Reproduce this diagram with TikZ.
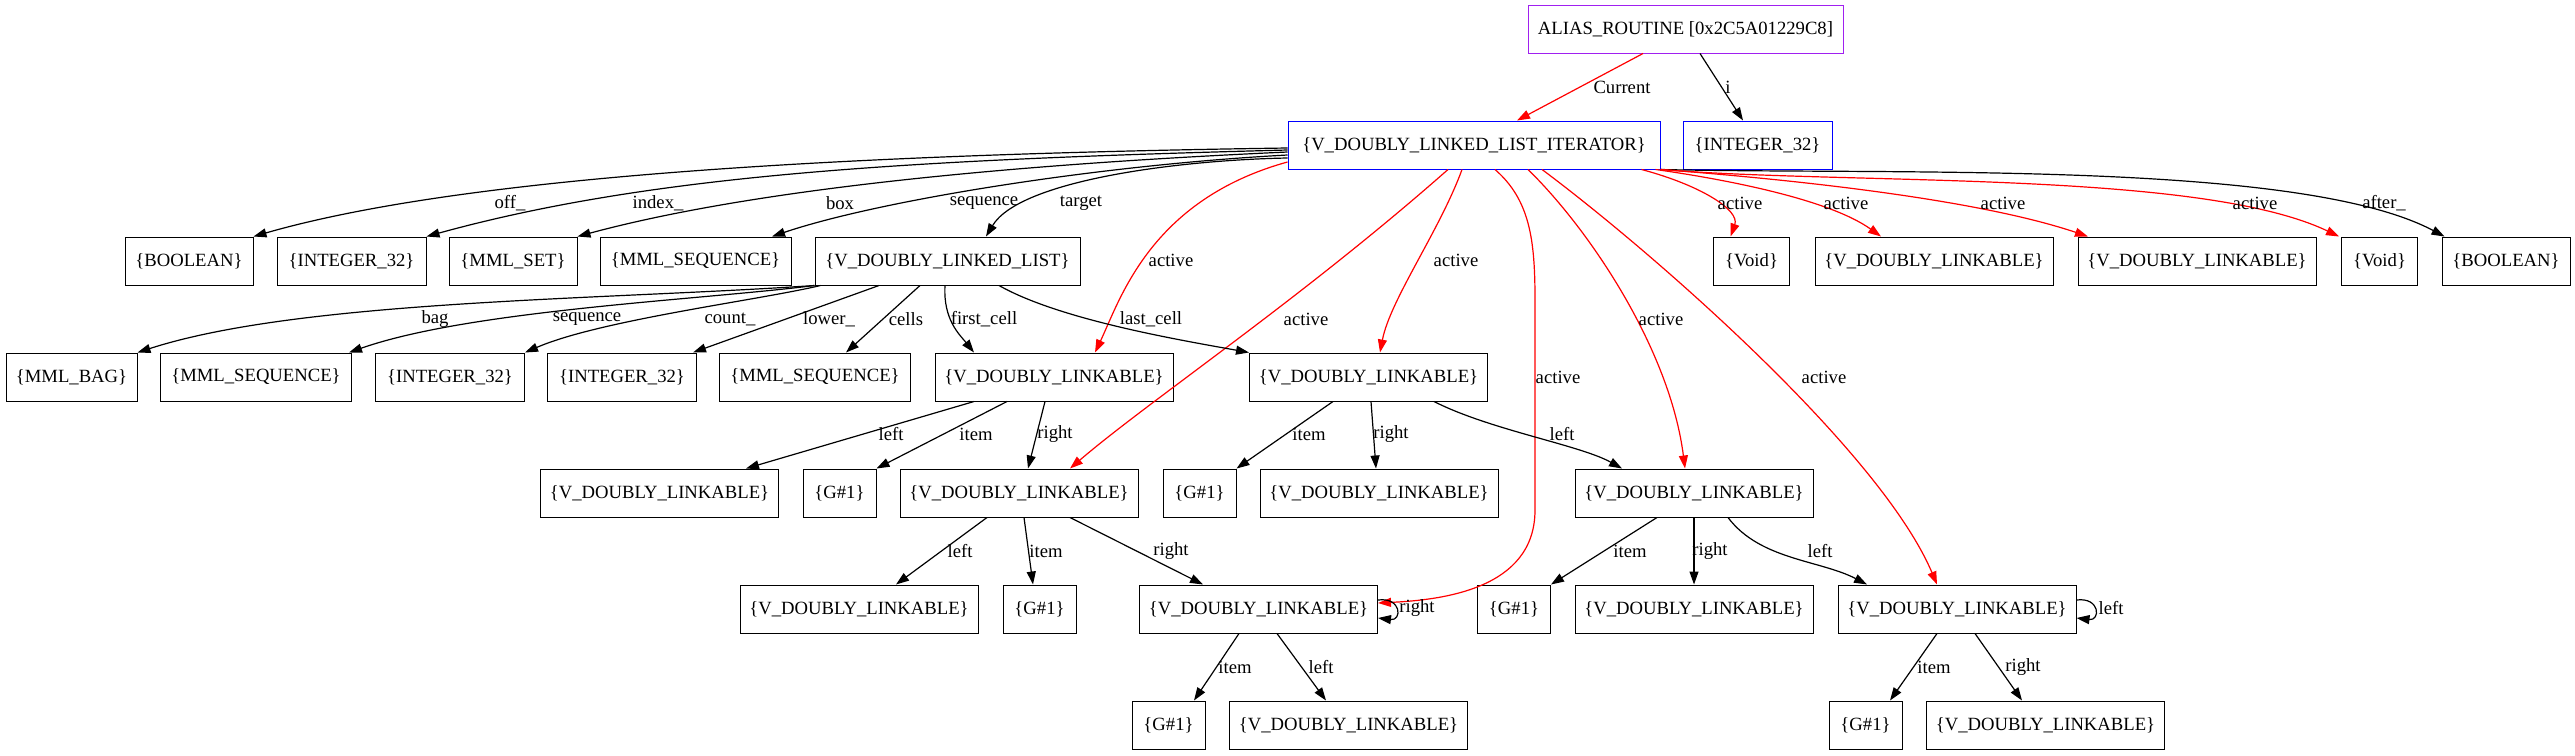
\documentclass[tikz,border=0pt]{standalone}
\usepackage{fontspec}
\setmainfont{Liberation Serif}
\usetikzlibrary{arrows.meta}
\definecolor{gvpurple}{HTML}{A020F0}
\begin{document}
\begin{tikzpicture}[x=1pt,y=-1pt,
  txt/.style={font=\fontsize{18.67pt}{22pt}\selectfont},
  box/.style={txt,draw=black,line width=1pt,rectangle,inner sep=0pt,minimum height=48pt},
  wK/.style={box,minimum width=238pt},
  wG/.style={box,minimum width=73pt},
  wB/.style={box,minimum width=128pt},
  wI/.style={box,minimum width=149pt},
  wQ/.style={box,minimum width=191pt},
  wV/.style={box,minimum width=76pt},
  lbl/.style={txt,inner sep=0pt},
  e/.style={line width=1.2pt,-{Triangle[length=13pt,width=9pt]}},
  ea/.style={e,red}]
\useasboundingbox (0,0) rectangle (2575,755);
% nodes
\node[box,draw=gvpurple,minimum width=315pt] (A) at (1685.5,29) {ALIAS\_ROUTINE [0x2C5A01229C8]};
\node[box,draw=blue,minimum width=372pt] (IT) at (1474,145) {\{V\_DOUBLY\_LINKED\_LIST\_ITERATOR\}};
\node[wI,draw=blue] (Ia) at (1757.5,145) {\{INTEGER\_32\}};
% row 2
\node[wB] (b1) at (189,261) {\{BOOLEAN\}};
\node[wI] (i1) at (351.5,261) {\{INTEGER\_32\}};
\node[wB] (ms) at (513,261) {\{MML\_SET\}};
\node[wQ] (mq) at (695.5,261) {\{MML\_SEQUENCE\}};
\node[box,minimum width=265pt] (dl) at (947.5,261) {\{V\_DOUBLY\_LINKED\_LIST\}};
\node[wV] (v1) at (1751.5,261) {\{Void\}};
\node[wK] (k1) at (1934,261) {\{V\_DOUBLY\_LINKABLE\}};
\node[wK] (k2) at (2197,261) {\{V\_DOUBLY\_LINKABLE\}};
\node[wV] (v2) at (2379.5,261) {\{Void\}};
\node[wB] (b2) at (2506,261) {\{BOOLEAN\}};
% row 3
\node[box,minimum width=131pt] (bag) at (71.5,377) {\{MML\_BAG\}};
\node[wQ] (mq2) at (256,377) {\{MML\_SEQUENCE\}};
\node[wI] (i2) at (450,377) {\{INTEGER\_32\}};
\node[wI] (i3) at (622,377) {\{INTEGER\_32\}};
\node[wQ] (mq3) at (815,377) {\{MML\_SEQUENCE\}};
\node[wK] (fc) at (1054,377) {\{V\_DOUBLY\_LINKABLE\}};
\node[wK] (lc) at (1368.5,377) {\{V\_DOUBLY\_LINKABLE\}};
% row 4
\node[wK] (r4a) at (659.5,493) {\{V\_DOUBLY\_LINKABLE\}};
\node[wG] (g1) at (839.5,493) {\{G\#1\}};
\node[wK] (r4b) at (1019,493) {\{V\_DOUBLY\_LINKABLE\}};
\node[wG] (g2) at (1199.5,493) {\{G\#1\}};
\node[wK] (r4c) at (1379,493) {\{V\_DOUBLY\_LINKABLE\}};
\node[wK] (r4d) at (1694,493) {\{V\_DOUBLY\_LINKABLE\}};
% row 5
\node[wK] (r5a) at (859,609) {\{V\_DOUBLY\_LINKABLE\}};
\node[wG] (g3) at (1039.5,609) {\{G\#1\}};
\node[wK] (r5b) at (1258.5,609) {\{V\_DOUBLY\_LINKABLE\}};
\node[wG] (g4) at (1514,609) {\{G\#1\}};
\node[wK] (r5c) at (1694,609) {\{V\_DOUBLY\_LINKABLE\}};
\node[wK] (r5d) at (1957,609) {\{V\_DOUBLY\_LINKABLE\}};
% row 6
\node[wG] (g5) at (1168.5,725) {\{G\#1\}};
\node[wK] (r6a) at (1348.5,725) {\{V\_DOUBLY\_LINKABLE\}};
\node[wG] (g6) at (1865.5,725) {\{G\#1\}};
\node[wK] (r6b) at (2045.5,725) {\{V\_DOUBLY\_LINKABLE\}};

% edges from A
\draw[ea] ([xshift=-42.5pt]A.south) -- ([xshift=43pt]IT.north);
\draw[e] ([xshift=14.5pt]A.south) -- ([xshift=-14.5pt]Ia.north);
% IT black edges
\draw[e] ([yshift=-3pt]IT.west) .. controls (800,155) and (450,180) .. (b1.north east);
\draw[e] ([yshift=-5pt]IT.west) .. controls (900,160) and (650,175) .. (i1.north east);
\draw[e] ([yshift=-7pt]IT.west) .. controls (1000,165) and (750,190) .. (ms.north east);
\draw[e] ([yshift=-10pt]IT.west) .. controls (1100,165) and (880,200) .. ([xshift=76.5pt]mq.north);
\draw[e] ([yshift=-13pt]IT.west) .. controls (1180,160) and (1020,180) .. ([xshift=38.5pt]dl.north);
\draw[e] (IT.south east) .. controls (1900,175) and (2300,160) .. ([xshift=3pt]b2.north west);
% IT red edges
\draw[ea] ([xshift=-19pt]IT.south east) .. controls (1700,185) and (1740,210) .. ([xshift=-21pt]v1.north);
\draw[ea] ([xshift=-5pt]IT.south east) .. controls (1730,180) and (1830,200) .. ([xshift=-53pt]k1.north);
\draw[ea] (IT.south east) .. controls (1800,180) and (1980,200) .. ([xshift=-109pt]k2.north);
\draw[ea] (IT.south east) .. controls (1850,185) and (2200,170) .. ([xshift=-2pt]v2.north west);
\draw[ea] ([yshift=-17pt]IT.west) .. controls (1150,200) and (1120,300) .. ([xshift=41pt]fc.north);
\draw[ea] ([xshift=-26pt]IT.south) .. controls (1300,300) and (1150,400) .. ([xshift=51pt]r4b.north);
\draw[ea] ([xshift=-12pt]IT.south) .. controls (1440,230) and (1390,300) .. ([xshift=11.5pt]lc.north);
\draw[ea] ([xshift=21pt]IT.south) .. controls (1530,200) and (1535,240) .. (1535,300) -- (1535,510) .. controls (1535,590) and (1440,600) .. ([yshift=6pt]r5b.east);
\draw[ea] ([xshift=54pt]IT.south) .. controls (1590,230) and (1670,350) .. ([xshift=-9pt]r4d.north);
\draw[ea] ([xshift=68pt]IT.south) .. controls (1650,250) and (1880,450) .. ([xshift=-20pt]r5d.north);
% dl edges
\draw[e] (dl.south west) .. controls (600,300) and (300,300) .. (bag.north east);
\draw[e] (dl.south west) .. controls (700,300) and (470,310) .. ([xshift=-3pt]mq2.north east);
\draw[e] ([xshift=6pt]dl.south west) .. controls (760,300) and (600,320) .. (i2.north east);
\draw[e] ([xshift=-68.5pt]dl.south) -- ([xshift=-4pt]i3.north east);
\draw[e] ([xshift=-27.5pt]dl.south) -- ([xshift=31pt]mq3.north);
\draw[e] ([xshift=-2.5pt]dl.south) .. controls (943,320) and (960,335) .. ([xshift=-80pt]fc.north);
\draw[e] ([xshift=51.5pt]dl.south) .. controls (1060,320) and (1180,340) .. (lc.north west);
% fc edges
\draw[e] ([xshift=-80pt]fc.south) -- ([xshift=86.5pt]r4a.north);
\draw[e] ([xshift=-47pt]fc.south) -- (g1.north east);
\draw[e] ([xshift=-9pt]fc.south) -- ([xshift=9pt]r4b.north);
% lc edges
\draw[e] ([xshift=-35.5pt]lc.south) -- (g2.north east);
\draw[e] ([xshift=2.5pt]lc.south) -- ([xshift=-3pt]r4c.north);
\draw[e] ([xshift=65.5pt]lc.south) .. controls (1490,430) and (1580,445) .. ([xshift=-72pt]r4d.north);
% r4b edges
\draw[e] ([xshift=-32pt]r4b.south) -- ([xshift=37pt]r5a.north);
\draw[e] ([xshift=5pt]r4b.south) -- ([xshift=-6.5pt]g3.north);
\draw[e] ([xshift=51pt]r4b.south) -- ([xshift=-55.5pt]r5b.north);
% r4d edges
\draw[e] ([xshift=-37pt]r4d.south) -- (g4.north east);
\draw[e] (r4d.south) -- (r5c.north);
\draw[e] ([xshift=34pt]r4d.south) .. controls (1760,560) and (1820,560) .. ([xshift=-90pt]r5d.north);
% r5b edges
\draw[e] ([xshift=-19.5pt]r5b.south) -- ([xshift=25.5pt]g5.north);
\draw[e] ([xshift=18.5pt]r5b.south) -- ([xshift=-22.5pt]r6a.north);
\draw[e] ([yshift=9pt]r5b.east) .. controls +(24,-3) and +(24,3) .. ([yshift=-9pt]r5b.east);
% r5d edges
\draw[e] ([xshift=-20pt]r5d.south) -- ([xshift=24.5pt]g6.north);
\draw[e] ([xshift=18pt]r5d.south) -- ([xshift=-23.5pt]r6b.north);
\draw[e] ([yshift=9pt]r5d.east) .. controls +(24,-3) and +(24,3) .. ([yshift=-9pt]r5d.east);

% labels
\node[lbl] (lCur) at (1622,87) {Current};
\node[lbl] (li) at (1728,87) {i};
\node[lbl] (loff) at (510,203) {off\_};
\node[lbl] (lidx) at (658,203) {index\_};
\node[lbl] (lbox) at (840,203) {box};
\node[lbl] (lseq) at (984,203) {sequence};
\node[lbl] (ltgt) at (1081,203) {target};
\node[lbl] (la1) at (1740,203) {active};
\node[lbl] (la2) at (1846,203) {active};
\node[lbl] (la3) at (2003,203) {active};
\node[lbl] (la4) at (2255,203) {active};
\node[lbl] (laft) at (2384,203) {after\_};
\node[lbl] (la5) at (1171,260) {active};
\node[lbl] (la6) at (1456,260) {active};
\node[lbl] (lbag) at (435,319) {bag};
\node[lbl] (lseq2) at (587,319) {sequence};
\node[lbl] (lcnt) at (730,319) {count\_};
\node[lbl] (llow) at (829,319) {lower\_};
\node[lbl] (lcel) at (906,319) {cells};
\node[lbl] (lfc) at (984,319) {first\_cell};
\node[lbl] (llc) at (1151,319) {last\_cell};
\node[lbl] (la7) at (1306,319) {active};
\node[lbl] (la8) at (1661,319) {active};
\node[lbl] (la9) at (1558,377) {active};
\node[lbl] (la10) at (1824,377) {active};
\node[lbl] (l41) at (891,434) {left};
\node[lbl] (l42) at (976,434) {item};
\node[lbl] (l43) at (1055,434) {right};
\node[lbl] (l44) at (1309,434) {item};
\node[lbl] (l45) at (1391,434) {right};
\node[lbl] (l46) at (1562,434) {left};
\node[lbl] (l51) at (960,551) {left};
\node[lbl] (l52) at (1046,551) {item};
\node[lbl] (l53) at (1171,551) {right};
\node[lbl] (l54) at (1630,551) {item};
\node[lbl] (l55) at (1710,551) {right};
\node[lbl] (l56) at (1820,551) {left};
\node[lbl] (lloop1) at (1417,608) {right};
\node[lbl] (lloop2) at (2111,608) {left};
\node[lbl] (l61) at (1235,667) {item};
\node[lbl] (l62) at (1321,667) {left};
\node[lbl] (l63) at (1934,667) {item};
\node[lbl] (l64) at (2023,667) {right};
\end{tikzpicture}
\end{document}
